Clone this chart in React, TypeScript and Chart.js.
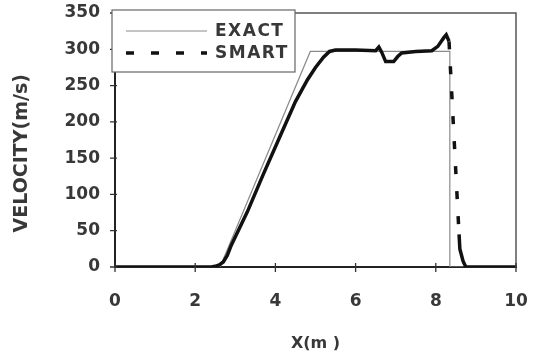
import React, { useEffect, useRef } from 'react';
import { Chart, registerables } from 'chart.js';

Chart.register(...registerables);

// ---- data ----
const exactX = [0, 2.62, 4.87, 8.35, 8.35, 10];
const exactY = [0, 0, 297, 297, 0, 0];

const smartX = [0, 2.4, 2.5, 2.6, 2.7, 2.8, 2.9, 3.3, 3.7, 4.1, 4.5, 4.8, 5.0, 5.2, 5.35, 5.5, 6.0, 6.5, 6.58, 6.65, 6.75, 6.95, 7.05, 7.15, 7.5, 7.9, 8.05, 8.2, 8.26, 8.33, 8.58, 8.6, 8.68, 8.75, 10];
const smartY = [0, 0, 1, 3, 7, 16, 30, 76, 128, 178, 228, 258, 275, 289, 297, 299, 299, 298, 303, 296, 283, 283, 290, 295, 297, 298, 304, 316, 320, 311, 45, 25, 8, 0, 0];

const seriesLabels = ['EXACT', 'SMART'];
const xTickValues = [0, 2, 4, 6, 8, 10];
const yTickValues = [0, 50, 100, 150, 200, 250, 300, 350];
const xTitle = 'X(m )';
const yTitle = 'VELOCITY(m/s)';

const FONT = "'DejaVu Sans', sans-serif";
const TEXT = '#383838';
const SMART_DASH = [8, 17];

const framePlugin = {
  id: 'frame',
  afterDraw(chart: any) {
    const { ctx, chartArea: a, scales } = chart;
    ctx.save();
    // top & right frame
    ctx.strokeStyle = '#555';
    ctx.lineWidth = 1.5;
    ctx.beginPath();
    ctx.moveTo(a.left, a.top);
    ctx.lineTo(a.right, a.top);
    ctx.lineTo(a.right, a.bottom);
    ctx.stroke();
    // tick marks crossing the axes
    ctx.strokeStyle = '#333';
    ctx.lineWidth = 1.3;
    ctx.beginPath();
    scales.y.ticks.forEach((t: any) => {
      const py = scales.y.getPixelForValue(t.value);
      ctx.moveTo(a.left - 5, py);
      ctx.lineTo(a.left + 2, py);
    });
    scales.x.ticks.forEach((t: any) => {
      const px = scales.x.getPixelForValue(t.value);
      ctx.moveTo(px, a.bottom - 4);
      ctx.lineTo(px, a.bottom + 5);
    });
    ctx.stroke();

    // legend box
    const lx = a.left - 3;
    const ly = a.top - 3;
    const lw = 183;
    const lh = 62;
    ctx.fillStyle = '#fff';
    ctx.fillRect(lx, ly, lw, lh);
    ctx.strokeStyle = '#666';
    ctx.lineWidth = 1.2;
    ctx.strokeRect(lx, ly, lw, lh);

    const ds = chart.data.datasets;
    const rows = [ly + 21, ly + 43];
    ds.forEach((d: any, i: number) => {
      const y = rows[i];
      ctx.save();
      ctx.strokeStyle = d.borderColor;
      ctx.lineWidth = d.borderWidth;
      ctx.setLineDash(d.borderDash || []);
      ctx.beginPath();
      ctx.moveTo(lx + 14, y);
      ctx.lineTo(lx + 95, y);
      ctx.stroke();
      ctx.restore();
      ctx.fillStyle = TEXT;
      ctx.font = `bold 17px ${FONT}`;
      (ctx as any).letterSpacing = '1.5px';
      ctx.textBaseline = 'middle';
      ctx.textAlign = 'left';
      ctx.fillText(d.label, lx + 103, y + 1);
      (ctx as any).letterSpacing = '0px';
    });
    ctx.restore();
  },
};

export default function App() {
  const ref = useRef<HTMLCanvasElement>(null);

  useEffect(() => {
    if (!ref.current) return;
    const exactData = exactX.map((x, i) => ({ x, y: exactY[i] }));
    const smartData = smartX.map((x, i) => ({ x, y: smartY[i] }));

    const chart = new Chart(ref.current, {
      type: 'line',
      data: {
        datasets: [
          {
            label: seriesLabels[0],
            data: exactData,
            borderColor: '#8a8a8a',
            borderWidth: 1.2,
            pointRadius: 0,
            tension: 0,
            order: 2,
          },
          {
            label: seriesLabels[1],
            data: smartData,
            borderColor: '#111',
            borderWidth: 3.5,
            borderDash: SMART_DASH,
            pointRadius: 0,
            tension: 0,
            order: 1,
            segment: {
              borderDash: (c: any) =>
                c.p0.parsed.x >= 8.3 && c.p0.parsed.x < 8.5 ? SMART_DASH : [],
            },
          } as any,
        ],
      },
      options: {
        responsive: false,
        animation: false,
        devicePixelRatio: 1,
        layout: { padding: { top: 13, right: 18, left: 0, bottom: 0 } },
        plugins: { legend: { display: false }, tooltip: { enabled: false } },
        scales: {
          x: {
            type: 'linear',
            min: 0,
            max: 10,
            afterBuildTicks: (s: any) => {
              s.ticks = xTickValues.map((v) => ({ value: v }));
            },
            afterFit: (s: any) => {
              s.height = 91;
              s.paddingLeft = 0;
              s.paddingRight = 0;
            },
            grid: { display: false, drawTicks: false },
            border: { display: true, color: '#222', width: 2 },
            ticks: { color: TEXT, font: { family: FONT, size: 17, weight: 'bold' }, padding: 24, maxRotation: 0 },
            title: {
              display: true,
              text: xTitle,
              color: TEXT,
              font: { family: FONT, size: 16, weight: 'bold' },
              padding: { top: 0, bottom: 5 },
            },
          },
          y: {
            type: 'linear',
            min: 0,
            max: 350,
            afterBuildTicks: (s: any) => {
              s.ticks = yTickValues.map((v) => ({ value: v }));
            },
            afterFit: (s: any) => {
              s.width = 115;
              s.paddingTop = 0;
              s.paddingBottom = 0;
            },
            grid: { display: false, drawTicks: false },
            border: { display: true, color: '#222', width: 2 },
            ticks: { color: TEXT, font: { family: FONT, size: 17, weight: 'bold' }, padding: 15 },
            title: {
              display: true,
              text: yTitle + '    ',
              color: TEXT,
              font: { family: FONT, size: 19, weight: 'bold' },
              padding: { top: 11, bottom: 0 },
            },
          },
        },
      },
      plugins: [framePlugin],
    });
    return () => chart.destroy();
  }, []);

  return (
    <div style={{ position: 'absolute', left: 0, top: 0, width: 534, height: 358, background: '#fff' }}>
      <canvas ref={ref} width={534} height={358} style={{ display: 'block' }} />
    </div>
  );
}
